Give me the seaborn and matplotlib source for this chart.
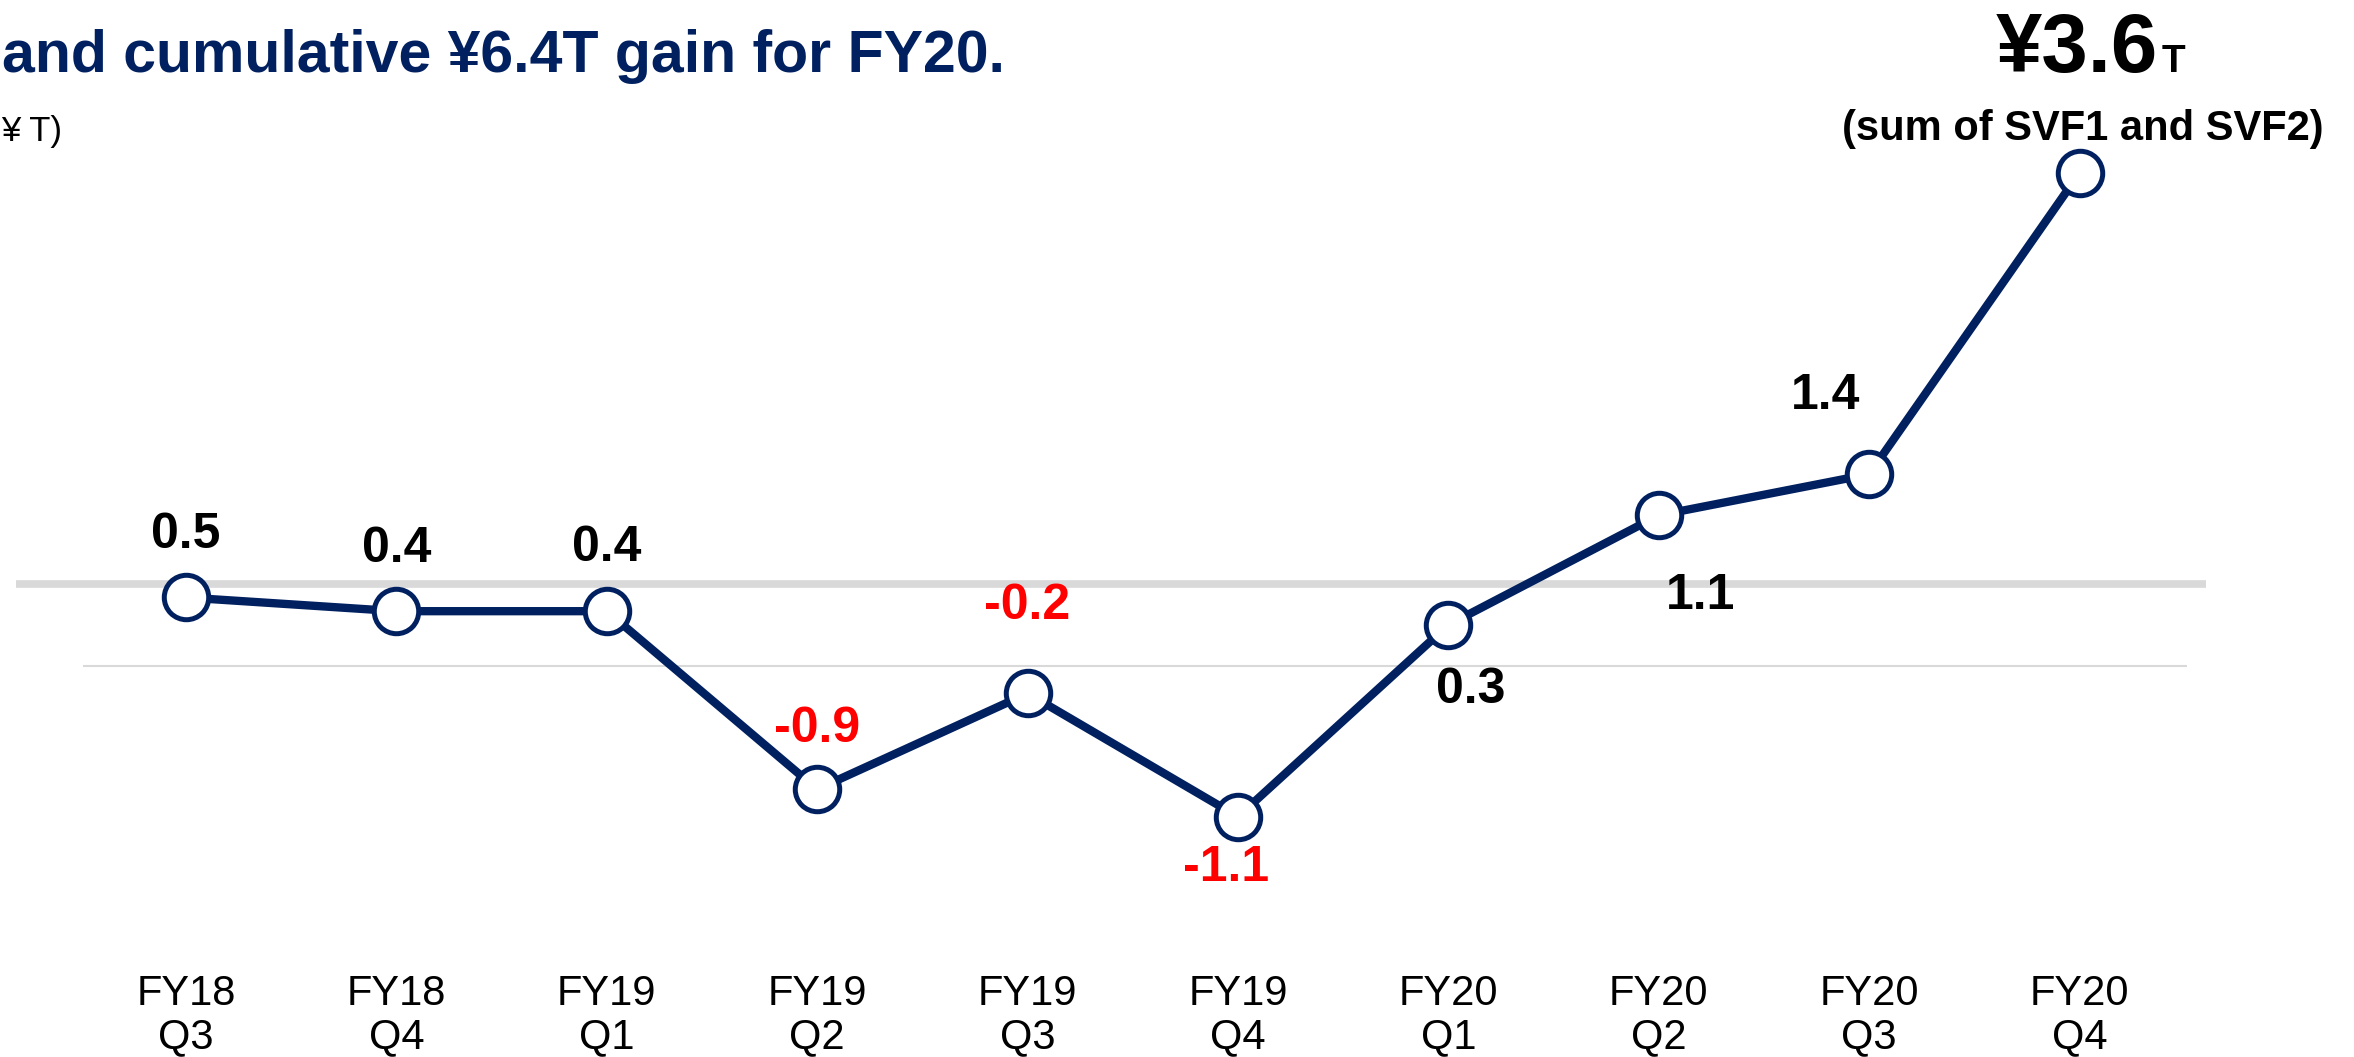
import matplotlib
matplotlib.use("Agg")
import matplotlib.pyplot as plt
import seaborn as sns
import pandas as pd

# quarterly SVF gains (trillion yen)
quarters = ["FY18\nQ3", "FY18\nQ4", "FY19\nQ1", "FY19\nQ2", "FY19\nQ3",
            "FY19\nQ4", "FY20\nQ1", "FY20\nQ2", "FY20\nQ3", "FY20\nQ4"]
gains = [0.5, 0.4, 0.4, -0.9, -0.2, -1.1, 0.3, 1.1, 1.4, 3.6]

title = "and cumulative ¥6.4T gain for FY20."
unit_label = "¥ T)"
total_note = "(sum of SVF1 and SVF2)"

NAVY = "#002060"
GREY = "#D9D9D9"
W, H = 2354, 1057

# label offsets in pixels (dx, dy downwards), last point uses the big callout
label_offsets = [(0, -62), (0, -62), (0, -63), (0, -60), (0, -87),
                 (-12, 51), (22, 65), (42, 81), (-44, -78), None]

sns.set_theme(style="white")
plt.rcParams["font.family"] = ["Liberation Sans", "DejaVu Sans"]
plt.rcParams["text.color"] = "black"
plt.rcParams["xtick.color"] = "black"

fig = plt.figure(figsize=(W / 100, H / 100), dpi=100)
ax = fig.add_axes([0, 97 / H, 1, 960 / H])

df = pd.DataFrame({"pos": range(len(quarters)), "gain": gains})

# background reference lines
ax.hlines(0.6, -0.81, 9.6, color=GREY, lw=5.5, zorder=0)
ax.hlines(0, -0.49, 9.51, color=GREY, lw=1.5, zorder=0)

sns.lineplot(data=df, x="pos", y="gain", ax=ax, color=NAVY, linewidth=6,
             marker="o", markersize=32, markerfacecolor="white",
             markeredgecolor=NAVY, markeredgewidth=3.6, sort=False, zorder=3)

for i, v in enumerate(gains):
    off = label_offsets[i]
    if off is None:
        continue
    ax.annotate(f"{v:.1f}", (i, v), xytext=(off[0], -off[1]),
                textcoords="offset pixels", ha="center", va="center",
                fontsize=36, fontweight="bold",
                color="#FF0000" if v < 0 else "black")

ax.set_xlim(-0.884, 10.304)
ax.set_ylim(-2.146, 4.861)
ax.set_xticks(range(len(quarters)))
ax.set_xticklabels(quarters, fontsize=30, linespacing=1.1)
ax.tick_params(axis="x", length=0, pad=10)
ax.set_yticks([])
ax.set_xlabel("")
ax.set_ylabel("")
sns.despine(ax=ax, left=True, bottom=True)

fig.text(2 / W, 1 - 72 / H, title, ha="left", va="baseline",
         fontsize=42.5, fontweight="bold", color=NAVY)
fig.text(1 / W, 1 - 131 / H, unit_label, ha="left", va="center", fontsize=25)
fig.text(2158 / W, 1 - 72 / H, f"¥{gains[-1]:.1f}", ha="right", va="baseline",
         fontsize=60, fontweight="bold")
fig.text(2162 / W, 1 - 72 / H, "T", ha="left", va="baseline",
         fontsize=28, fontweight="bold")
fig.text(2083 / W, 1 - 140 / H, total_note, ha="center", va="baseline",
         fontsize=30, fontweight="bold")

fig.savefig("out.png", dpi=100)
